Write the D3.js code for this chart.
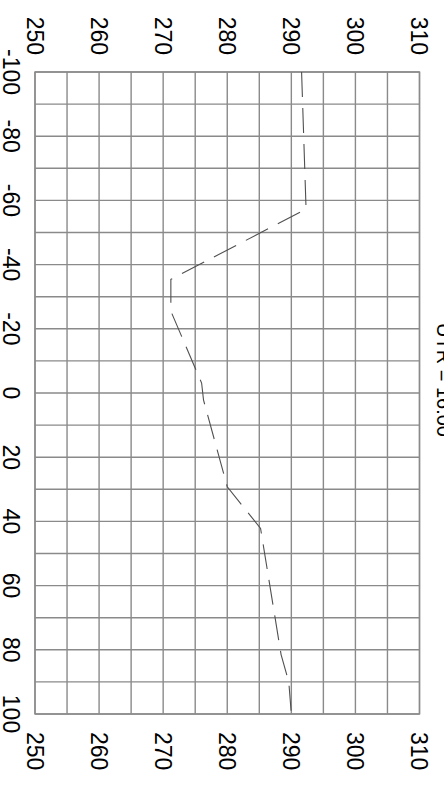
<!DOCTYPE html>
<html>
<head>
<meta charset="utf-8">
<script src="https://cdn.jsdelivr.net/npm/d3@7"></script>
<style>
  html, body { margin: 0; padding: 0; background: #fff; }
  svg { display: block; }
  text { font-family: "Liberation Sans", Arial, sans-serif; fill: #000; }
</style>
</head>
<body>
<script>
// Data (chart is drawn rotated 90° clockwise)
const title = "UTR = 16:00";
const tempTicks = [250, 260, 270, 280, 290, 300, 310];
const latTicks = [-100, -80, -60, -40, -20, 0, 20, 40, 60, 80, 100];
const latValues = [-100, -57.3, -35.4, -25.5, -3.1, 2.2, 29.2, 42.2, 81.5, 90, 100];
const tempValues = [291.6, 292.3, 271.2, 271.2, 276.0, 276.3, 280.0, 285.2, 288.4, 289.6, 290.0];

const W = 444, H = 785;
const svg = d3.select("body").append("svg").attr("width", W).attr("height", H);
svg.append("rect").attr("width", W).attr("height", H).attr("fill", "#fff");

const x = d3.scaleLinear().domain([250, 310]).range([35, 419.5]);
const y = d3.scaleLinear().domain([-100, 100]).range([72, 714]);

const grid = svg.append("g").attr("stroke", "#8a8a8a").attr("stroke-width", 1.4);
grid.selectAll("line.v").data(d3.range(250, 310.1, 5)).join("line")
  .attr("x1", d => x(d)).attr("x2", d => x(d))
  .attr("y1", y(-100)).attr("y2", y(100));
grid.selectAll("line.h").data(d3.range(-100, 100.1, 10)).join("line")
  .attr("y1", d => y(d)).attr("y2", d => y(d))
  .attr("x1", x(250)).attr("x2", x(310));
svg.append("rect")
  .attr("x", x(250)).attr("y", y(-100))
  .attr("width", x(310) - x(250)).attr("height", y(100) - y(-100))
  .attr("fill", "none").attr("stroke", "#8a8a8a").attr("stroke-width", 1.4);

// Temperature labels, top and bottom (rotated)
const fs = 23;
svg.append("g").selectAll("text").data(tempTicks).join("text")
  .attr("transform", d => `translate(${x(d)},55) rotate(90)`)
  .attr("text-anchor", "end").attr("dy", "0.36em")
  .attr("font-size", fs).text(d => d);
svg.append("g").selectAll("text").data(tempTicks).join("text")
  .attr("transform", d => `translate(${x(d)},732) rotate(90)`)
  .attr("text-anchor", "start").attr("dy", "0.36em")
  .attr("font-size", fs).text(d => d);

// Latitude labels on the left (rotated)
svg.append("g").selectAll("text").data(latTicks).join("text")
  .attr("transform", d => `translate(11,${y(d)}) rotate(90)`)
  .attr("text-anchor", "middle").attr("dy", "0.36em")
  .attr("font-size", fs).text(d => d);

// Title at the right edge (partly cut off)
svg.append("text")
  .attr("transform", `translate(437,380) rotate(90)`)
  .attr("text-anchor", "middle")
  .attr("font-size", 20).text(title);

// Dashed profile line
const pts = latValues.map((l, i) => [tempValues[i], l]);
const line = d3.line().x(d => x(d[0])).y(d => y(d[1]));
svg.append("path").datum(pts)
  .attr("d", line)
  .attr("fill", "none")
  .attr("stroke", "#505050")
  .attr("stroke-width", 1.1)
  .attr("stroke-dasharray", "25,11");
</script>
</body>
</html>
